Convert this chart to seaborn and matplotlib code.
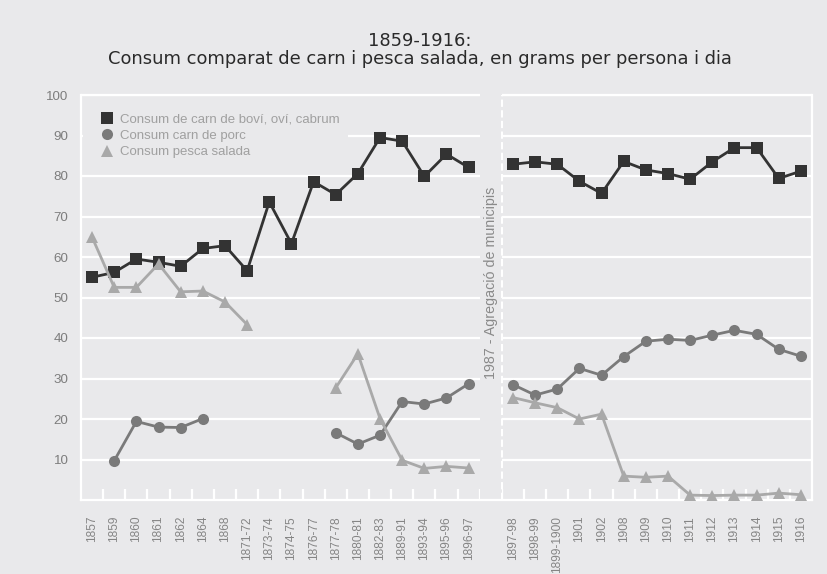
import numpy as np
import pandas as pd
import matplotlib
matplotlib.use("Agg")
import matplotlib.pyplot as plt
import seaborn as sns
from matplotlib.lines import Line2D

nan = np.nan

# ---------------- data ----------------
labels = ["1857", "1859", "1860", "1861", "1862", "1864", "1868", "1871-72",
          "1873-74", "1874-75", "1876-77", "1877-78", "1880-81", "1882-83",
          "1889-91", "1893-94", "1895-96", "1896-97", "",
          "1897-98", "1898-99", "1899-1900", "1901", "1902", "1908", "1909",
          "1910", "1911", "1912", "1913", "1914", "1915", "1916"]

beef = [55.0, 56.2, 59.5, 58.7, 57.7, 62.1, 62.8, 56.6, 73.6, 63.3, 78.6,
        75.4, 80.6, 89.5, 88.6, 79.9, 85.4, 82.1, nan,
        82.9, 83.5, 82.9, 78.7, 75.7, 83.6, 81.5, 80.6, 79.2, 83.5, 87.0,
        87.0, 79.4, 81.2]

pork = [nan, 9.7, 19.4, 18.0, 17.9, 20.1, nan, nan, nan, nan, nan,
        16.6, 13.8, 16.0, 24.3, 23.7, 25.2, 28.7, nan,
        28.5, 25.9, 27.4, 32.5, 30.8, 35.4, 39.2, 39.7, 39.4, 40.7, 41.9,
        40.9, 37.2, 35.5]

fish = [64.9, 52.5, 52.5, 58.3, 51.4, 51.6, 48.9, 43.3, nan, nan, nan,
        27.7, 36.1, 20.1, 9.8, 7.8, 8.3, 7.9, nan,
        25.3, 24.0, 22.8, 20.0, 21.2, 5.9, 5.6, 5.9, 1.2, 1.1, 1.2,
        1.2, 1.7, 1.3]

series_names = ["Consum de carn de boví, oví, cabrum",
                "Consum carn de porc",
                "Consum pesca salada"]
title_line1 = "1859-1916:"
title_line2 = "Consum comparat de carn i pesca salada, en grams per persona i dia"
annotation = "1987 - Agregació de municipis"
yticks = [10, 20, 30, 40, 50, 60, 70, 80, 90, 100]

# ---------------- style ----------------
BG = "#e9e9eb"
sns.set_theme(style="darkgrid", rc={
    "axes.facecolor": BG, "figure.facecolor": BG,
    "grid.color": "white", "grid.linewidth": 1.6,
})
plt.rcParams["font.family"] = ["Liberation Sans", "DejaVu Sans"]

W, H = 828, 574
fig = plt.figure(figsize=(W / 100, H / 100), dpi=100)
ax = fig.add_axes([81 / W, 74 / H, 731 / W, 405 / H])

x = np.arange(len(labels))
df = pd.DataFrame({"pos": x, "label": labels,
                   "beef": beef, "pork": pork, "fish": fish})


def segments(vals):
    segs, cur = [], []
    for i, v in enumerate(vals):
        if np.isnan(v):
            if cur:
                segs.append(cur)
                cur = []
        else:
            cur.append(i)
    if cur:
        segs.append(cur)
    return segs


specs = [("beef", "#333333", "s", 8.0, 3),
         ("pork", "#7a7a7a", "o", 8.0, 4),
         ("fish", "#a9a9a9", "^", 9.0, 5)]

for col, color, marker, ms, z in specs:
    vals = df[col].to_numpy()
    for seg in segments(vals):
        sub = df.iloc[seg]
        sns.lineplot(data=sub, x="pos", y=col, ax=ax, color=color,
                     marker=marker, markersize=ms, markeredgewidth=0,
                     linewidth=2.0, zorder=z)

# gap column between the two periods
ax.axvspan(17.5, 18.5, color=BG, zorder=1, lw=0)
ax.axvline(18.5, color="white", linestyle=(0, (3.5, 1.6)), lw=1.5, zorder=2)

ax.text(18, 53.5, annotation, rotation=90, ha="center", va="center",
        fontsize=10.3, color="#8a8a8a", zorder=6)

# axes
ax.set_xlim(-0.5, len(labels) - 0.5)
ax.set_ylim(0, 100)
ax.set_xlabel("")
ax.set_ylabel("")
ax.set_xticks(x)
ax.set_xticklabels(labels, rotation=90)
ax.set_xticks(np.arange(0.5, len(labels) - 1, 1), minor=True)
ax.tick_params(axis="x", which="major", length=0, pad=11.5,
               labelsize=8.6, labelcolor="#858585")
ax.tick_params(axis="x", which="minor", bottom=True, direction="in",
               length=8, width=1.6, color="white")
ax.set_yticks(yticks)
ax.tick_params(axis="y", which="major", length=0, pad=9,
               labelsize=9.6, labelcolor="#7d7d7d")
ax.grid(False, axis="x", which="both")
ax.grid(True, axis="y", which="major")
ax.set_axisbelow(True)

for name, sp in ax.spines.items():
    sp.set_visible(name != "top")
    sp.set_color("white")
    sp.set_linewidth(1.6)
ax.plot([-0.5, 17.5], [100, 100], color="white", lw=1.6, clip_on=False,
        zorder=2.5, solid_capstyle="butt")
ax.plot([18.5, len(labels) - 0.5], [100, 100], color="white", lw=1.6,
        clip_on=False, zorder=2.5, solid_capstyle="butt")

# legend
handles = [Line2D([], [], color=c, marker=m, markersize=ms, linestyle="none",
                  markeredgewidth=0) for _, c, m, ms, _ in specs]
leg = ax.legend(handles, series_names, loc="upper left",
                bbox_to_anchor=(0.003, 0.975), borderaxespad=0,
                frameon=True, facecolor=BG, edgecolor="none", framealpha=1,
                fontsize=9.5, labelcolor="#a0a0a0", handlelength=2.4,
                handletextpad=-0.2, borderpad=0.6, labelspacing=0.33)
leg.set_zorder(7)

# title
fig.text(420 / W, 1 - 46 / H, title_line1, ha="center", va="baseline",
         fontsize=12.9, color="#2a2a2a", family=["DejaVu Sans"])
fig.text(420 / W, 1 - 64.5 / H, title_line2, ha="center", va="baseline",
         fontsize=12.9, color="#2a2a2a", family=["DejaVu Sans"])

fig.savefig("out.png", dpi=100, facecolor=BG)
